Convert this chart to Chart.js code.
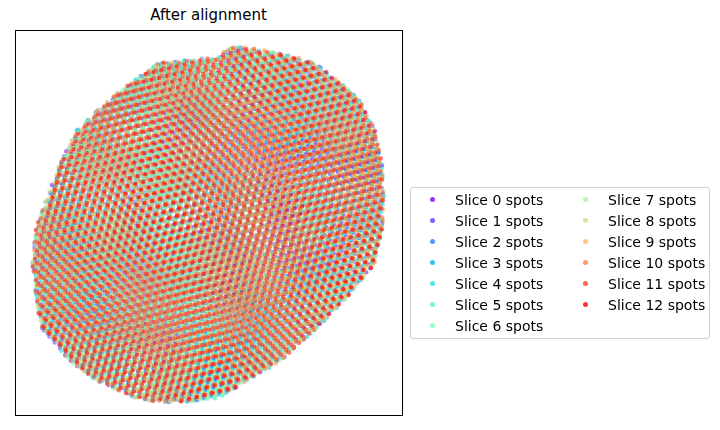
<!DOCTYPE html>
<html><head><meta charset="utf-8">
<script src="https://cdn.jsdelivr.net/npm/chart.js@4/dist/chart.umd.min.js"></script>
<style>
body{margin:0;width:720px;height:430px;background:#fff;font-family:"DejaVu Sans",sans-serif;position:relative;overflow:hidden}
#title{position:absolute;left:15px;width:387px;top:6px;text-align:center;font-size:15px}
#legend{position:absolute;left:410px;top:187px;width:300px;height:152px;border:1px solid #d0d0d0;border-radius:3px;box-sizing:border-box;font-size:14px}
.item{position:absolute;white-space:nowrap;line-height:16px}
.dot{position:absolute;width:5px;height:5px;border-radius:50%;top:5px}
</style></head><body>
<div id="title">After alignment</div>
<canvas id="c" width="720" height="430" style="position:absolute;left:0;top:0"></canvas>
<div id="legend"></div>
<script>
// outline of the tissue (plot units, y downward)
const rowY     = [17, 27, 33, 67, 100, 133, 167, 200, 233, 267, 300, 333, 350, 367, 372];
const rowLeft  = [217,200,143, 97, 62, 45, 32, 20, 17, 20, 27, 57, 80, 117, 140];
const rowRight = [233,280,300,343,360,367,370,367,360,333,300,263,233, 207, 180];
// per-slice grid rotation (degrees) and shift, estimated
const sliceNames = ['Slice 0 spots','Slice 1 spots','Slice 2 spots','Slice 3 spots','Slice 4 spots','Slice 5 spots','Slice 6 spots',
  'Slice 7 spots','Slice 8 spots','Slice 9 spots','Slice 10 spots','Slice 11 spots','Slice 12 spots'];
const sliceAngle = [-18, -12, -16, -14, -20, -10, -15, -17, -13, -19, -11, -16, -14];
const sliceShiftX = [0, 2, 4, 1, 3, 5, 2, 6, 0, 3, 5, 1, 4];
const sliceShiftY = [0, 3, 1, 4, 2, 0, 5, 1, 3, 4, 2, 6, 1];

function rainbow(x){
  const c=v=>Math.round(255*Math.max(0,Math.min(1,v)));
  return [c(Math.abs(2*x-0.5)), c(Math.sin(Math.PI*x)), c(Math.cos(Math.PI*x/2))];
}
function inside(x,y){
  if(y<rowY[0]||y>rowY[rowY.length-1]) return false;
  for(let i=0;i<rowY.length-1;i++){
    if(y>=rowY[i]&&y<=rowY[i+1]){
      const t=(y-rowY[i])/(rowY[i+1]-rowY[i]);
      const l=rowLeft[i]+t*(rowLeft[i+1]-rowLeft[i]);
      const r=rowRight[i]+t*(rowRight[i+1]-rowRight[i]);
      return x>=l&&x<=r;
    }
  }
  return false;
}
function spots(k){
  const s=8, h=s*0.866, a=sliceAngle[k]*Math.PI/180, cx=192, cy=192;
  const pts=[];
  for(let j=-35;j<=35;j++){
    for(let i=-35;i<=35;i++){
      const gx=i*s+(j%2?s/2:0)+sliceShiftX[k], gy=j*h+sliceShiftY[k];
      const x=cx+gx*Math.cos(a)-gy*Math.sin(a), y=cy+gx*Math.sin(a)+gy*Math.cos(a);
      if(inside(x,y)) pts.push({x:x,y:y});
    }
  }
  return pts;
}
const colors=sliceNames.map((n,k)=>rainbow(k/12));
const datasets=sliceNames.map((n,k)=>({
  label:n, data:spots(k), pointRadius:2.2, borderWidth:0, order:12-k,
  backgroundColor:`rgba(${colors[k].join(',')},0.55)`
}));

const border={id:'border',afterDraw(ch){
  const a=ch.chartArea,g=ch.ctx;g.save();g.strokeStyle='#000';g.lineWidth=1;
  g.strokeRect(a.left+0.5,a.top+0.5,a.right-a.left,a.bottom-a.top);g.restore();}};

new Chart(document.getElementById('c'),{
  type:'scatter',
  data:{datasets:datasets},
  options:{
    responsive:false, animation:false, events:[],
    layout:{padding:{left:15,right:318,top:30,bottom:15}},
    plugins:{legend:{display:false},tooltip:{enabled:false}},
    scales:{
      x:{display:false,min:0,max:387},
      y:{display:false,min:0,max:385,reverse:true}
    }
  },
  plugins:[border]
});

const lg=document.getElementById('legend');
sliceNames.forEach((n,k)=>{
  const col=k<7?0:1,row=k<7?k:k-7;
  const d=document.createElement('div');d.className='item';
  d.style.left=(col?172:19)+'px';d.style.top=(4+row*21)+'px';
  d.innerHTML=`<span class="dot" style="left:0;background:rgba(${colors[k].join(',')},0.8)"></span><span style="margin-left:25px">${n}</span>`;
  lg.appendChild(d);
});
</script></body></html>
